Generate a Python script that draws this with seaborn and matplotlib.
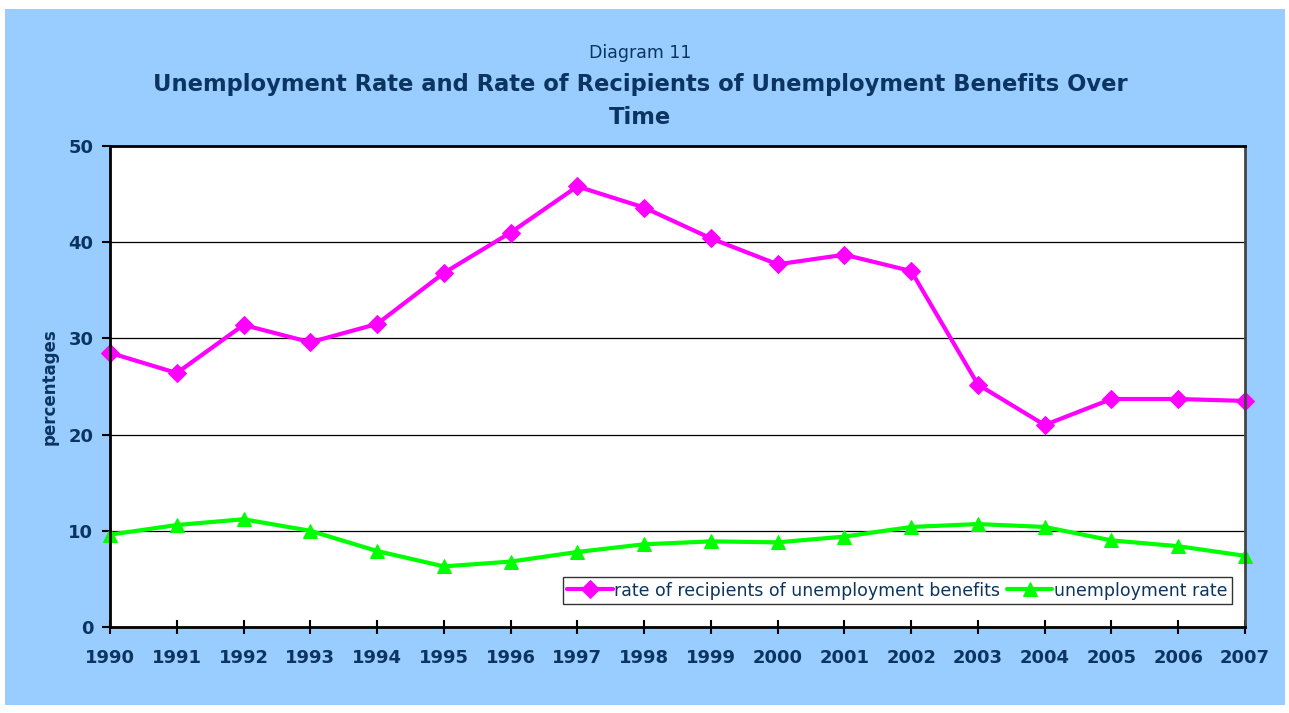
import matplotlib
matplotlib.use('Agg')
import matplotlib.pyplot as plt
import seaborn as sns
import pandas as pd
from matplotlib.patches import Rectangle

# values
years = list(range(1990, 2008))
recipients = [28.5, 26.4, 31.4, 29.6, 31.5, 36.8, 41.0, 45.8, 43.6, 40.4,
              37.7, 38.7, 37.0, 25.2, 21.0, 23.7, 23.7, 23.5]
unemployment = [9.6, 10.6, 11.2, 10.0, 7.9, 6.3, 6.8, 7.8, 8.6, 8.9,
                8.8, 9.4, 10.4, 10.7, 10.4, 9.0, 8.4, 7.4]

navy = '#0b3560'
pink = '#ff00ff'
green = '#00ff00'

sns.set_style('white')
plt.rcParams['font.family'] = ['DejaVu Sans']

fig = plt.figure(figsize=(12.89, 7.13), dpi=100)
fig.patch.set_facecolor('white')
fig.patches.append(Rectangle((5 / 1289, 8 / 713), 1280 / 1289, 696 / 713,
                             transform=fig.transFigure, facecolor='#99ccff',
                             edgecolor='none', zorder=-10))

ax = fig.add_axes([110 / 1289, 1 - 627 / 713, 1135 / 1289, 481 / 713])
ax.set_facecolor('white')

df = pd.DataFrame({'year': years, 'recipients': recipients,
                   'unemployment': unemployment})

sns.lineplot(data=df, x='year', y='recipients', ax=ax, color=pink,
             marker='D', markersize=9, markeredgecolor=pink, linewidth=3,
             label='rate of recipients of unemployment benefits', clip_on=False)
sns.lineplot(data=df, x='year', y='unemployment', ax=ax, color=green,
             marker='^', markersize=10, markeredgecolor=green, linewidth=3,
             label='unemployment rate', clip_on=False)

ax.set_xlim(1990, 2007)
ax.set_ylim(0, 50)
ax.set_xticks(years)
ax.set_yticks(range(0, 51, 10))
ax.yaxis.grid(True, color='black', linewidth=0.9)
ax.set_axisbelow(True)

for s in ax.spines.values():
    s.set_color('black')
    s.set_linewidth(2)
ax.spines['right'].set_color('#444444')

ax.tick_params(axis='x', bottom=True, direction='inout', length=10,
               width=1.5, colors='black', pad=11)
ax.tick_params(axis='y', left=True, direction='out', length=6, width=1.5,
               colors='black', pad=6)
for lbl in ax.get_xticklabels() + ax.get_yticklabels():
    lbl.set_color(navy)
    lbl.set_fontweight('bold')
    lbl.set_fontsize(13)

ax.set_xlabel('')
ax.set_ylabel('percentages', fontsize=12, fontweight='bold', color=navy,
              labelpad=7)

leg = ax.legend(loc='lower right', bbox_to_anchor=(0.9885, 0.048),
                frameon=True, fancybox=False, fontsize=12.5,
                borderpad=0.25, handlelength=2.6, handletextpad=0.1,
                columnspacing=0.4, ncol=2, borderaxespad=0)
leg.get_frame().set_edgecolor('black')
leg.get_frame().set_linewidth(1)
for t in leg.get_texts():
    t.set_color(navy)

fig.text(640 / 1289, 1 - 53 / 713, 'Diagram 11', ha='center', va='center',
         fontsize=12.5, color=navy)
fig.text(640 / 1289, 1 - 101 / 713,
         'Unemployment Rate and Rate of Recipients of Unemployment Benefits Over\nTime',
         ha='center', va='center', fontsize=16.3, fontweight='bold',
         color=navy, linespacing=1.55)

fig.savefig('out.png', dpi=100)
